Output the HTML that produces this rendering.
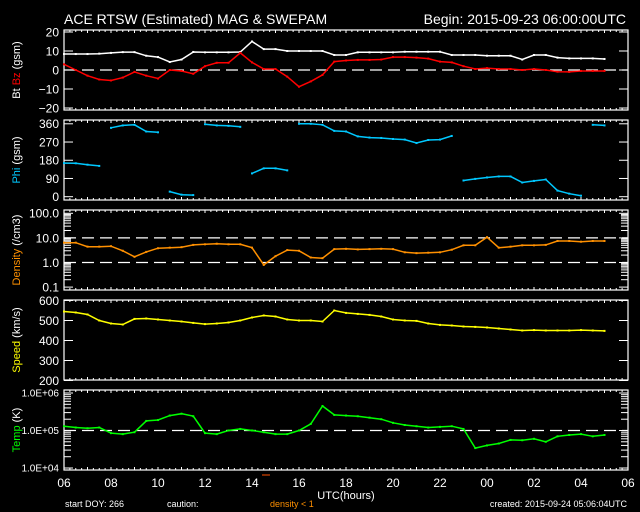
<!DOCTYPE html>
<html><head><meta charset="utf-8"><style>
html,body{margin:0;padding:0;background:#000;}
svg{display:block;font-family:"Liberation Sans",sans-serif;}
</style></head><body>
<svg id="c" width="640" height="512" viewBox="0 0 640 512" xmlns="http://www.w3.org/2000/svg">
<rect width="640" height="512" fill="#000"/>
<text x="64" y="24" fill="#fff" font-size="14">ACE RTSW (Estimated) MAG &amp; SWEPAM</text>
<text x="626" y="24" fill="#fff" font-size="14" text-anchor="end">Begin: 2015-09-23 06:00:00UTC</text>
<text x="346" y="499" fill="#fff" font-size="11" text-anchor="middle">UTC(hours)</text>
<text x="65" y="507" fill="#fff" font-size="9">start DOY: 266</text>
<text x="167" y="507" fill="#fff" font-size="9">caution:</text>
<text x="270" y="507" fill="#ff9000" font-size="9">density &lt; 1</text>
<line x1="262" y1="475" x2="270" y2="475" stroke="#ff5000" stroke-width="1"/>
<text x="627" y="507" fill="#fff" font-size="9" text-anchor="end">created: 2015-09-24 05:06:04UTC</text>
<g id="plots"></g>
</svg>
<script>
const hours = [0,0.5,1,1.5,2,2.5,3,3.5,4,4.5,5,5.5,6,6.5,7,7.5,8,8.5,9,9.5,10,10.5,11,11.5,12,12.5,13,13.5,14,14.5,15,15.5,16,16.5,17,17.5,18,18.5,19,19.5,20,20.5,21,21.5,22,22.5,23];
const bt = [8.4,8.4,8.4,8.6,9,9.4,9.4,7.5,6.8,4.2,5.5,9.5,9.3,9.3,9.3,9.5,15,11,11,10,10,10,10,7.9,7.9,9.3,9.3,9.3,9.3,9.6,9.6,9.6,9.6,7.9,7.9,7.9,7.5,7.5,7.5,5.5,7.9,7.9,6.5,6.1,6.1,6.1,5.8];
const bz = [3,0,-3,-5,-5.5,-4,-1,-3,-4.5,0,-0.5,-2,2,3.8,3.8,9,4,0.5,0.5,-3.5,-8.8,-6,-2.6,4.4,5,5.3,5.3,5.5,6.8,6.8,6.5,6,4.4,4,2,0.5,1,0.5,0.5,0,0.5,0,-0.9,-1,-0.5,-0.5,-0.5];
const phi = [166,165,158,152,340,352,355,322,318,25,10,8,358,352,350,345,115,140,140,130,360,360,355,325,322,298,292,290,285,282,265,280,282,300,80,88,95,100,100,70,78,85,30,15,5,355,352];
const density = [6.4,6.4,4.4,4.4,4.6,3,1.7,2.7,3.8,4,4.2,5.2,5.5,5.8,5.5,5.5,4,0.8,1.8,3.2,3,1.6,1.5,3.5,3.6,3.4,3.5,3.6,3.5,2.6,2.4,2.5,2.6,3.3,5,5,10.7,4,4.4,5,5,5.2,7.5,7.5,7,7.5,7.5];
const speed = [545,540,530,500,485,480,508,510,505,500,495,488,482,485,490,500,515,525,520,505,500,500,495,550,538,533,528,520,505,500,498,485,478,475,470,468,465,460,455,450,452,450,450,450,452,450,448];
const temp = [1.3e5,1.2e5,1.15e5,1.2e5,8.5e4,8e4,9e4,1.8e5,1.9e5,2.5e5,2.8e5,2.4e5,8.5e4,8e4,1e5,1.1e5,1e5,9e4,8e4,8e4,1e5,1.5e5,4.5e5,2.6e5,2.5e5,2.4e5,2.2e5,2e5,1.6e5,1.4e5,1.3e5,1.2e5,1.25e5,1.3e5,1.1e5,3.4e4,4e4,4.5e4,5.6e4,5.5e4,6e4,5e4,7e4,7.6e4,8e4,7e4,7.6e4];
const xTickLabels = ["06","08","10","12","14","16","18","20","22","00","02","04","06"];

const NS = "http://www.w3.org/2000/svg";
const g = document.getElementById('plots');
const X0 = 64, X1 = 628;
function xs(h){ return X0 + h * (X1 - X0) / 24; }
function mk(tag, attrs, parent){
  const e = document.createElementNS(NS, tag);
  for (const k in attrs) e.setAttribute(k, attrs[k]);
  (parent || g).appendChild(e);
  return e;
}
const panels = [
  {top:30, y:v=>70 - v*1.9, ticks:[20,10,0,-10,-20], labels:["20","10","0","−10","−20"], name:'bt-bz', fs:12},
  {top:120, y:v=>196.7 - v*0.2025, ticks:[360,270,180,90,0], labels:["360","270","180","90","0"], name:'phi', fs:12},
  {top:210, y:v=>262.5 - Math.log10(v)*24.6, ticks:[100,10,1,0.1], labels:["100.0","10.0","1.0","0.1"], log:true, name:'density', fs:12},
  {top:300, y:v=>380.5 - (v-200)*0.2, ticks:[600,500,400,300,200], labels:["600","500","400","300","200"], name:'speed', fs:12},
  {top:390, y:v=>468 - Math.log10(v/1e4)*37.5, ticks:[1e6,1e5,1e4], labels:["1.0E+06","1.0E+05","1.0E+04"], log:true, name:'temp', fs:10}
];
panels.forEach(p => {
  const r = mk('rect', {x:X0, y:p.top, width:X1-X0, height:80, fill:'none', stroke:'#fff', 'stroke-width':1.2});
  
  
  for (let q = 0; q <= 96; q++){
    const x = X0 + q * (X1-X0)/96;
    const len = q % 4 === 0 ? 3 : 2;
    mk('line', {x1:x, y1:p.top, x2:x, y2:p.top+len, stroke:'#fff', 'stroke-width':1});
    mk('line', {x1:x, y1:p.top+80, x2:x, y2:p.top+80-len, stroke:'#fff', 'stroke-width':1});
  }
  p.ticks.forEach((t, i) => {
    const y = p.y(t);
    mk('line', {x1:X0, y1:y, x2:X0+9, y2:y, stroke:'#fff', 'stroke-width':1});
    mk('line', {x1:X1, y1:y, x2:X1-9, y2:y, stroke:'#fff', 'stroke-width':1});
    const tx = mk('text', {x:59, y:y+p.fs*0.37, fill:'#fff', 'font-size':p.fs, 'text-anchor':'end'});
    
    
    tx.textContent = p.labels[i];
    if (p.log && i < p.ticks.length - 1){
      for (let m = 2; m <= 9; m++){
        const ym = p.y(p.ticks[i+1] * m);
        mk('line', {x1:X0, y1:ym, x2:X0+7, y2:ym, stroke:'#fff', 'stroke-width':1});
        mk('line', {x1:X1, y1:ym, x2:X1-7, y2:ym, stroke:'#fff', 'stroke-width':1});
      }
    }
  });
});
function dashed(y, name){
  const l = mk('line', {x1:X0, y1:y, x2:X1, y2:y, stroke:'#fff', 'stroke-width':1.2, 'stroke-dasharray':'12 6'});
  
  
}
dashed(panels[0].y(0), 'bz-zero-line');
dashed(panels[2].y(10), 'density-10-line');
dashed(panels[2].y(1), 'density-1-line');
dashed(panels[4].y(1e5), 'temp-1e5-line');

function series(vals, p, color, name, wrap){
  let segs = [[]];
  vals.forEach((v, i) => {
    const pt = [xs(hours[i]), p.y(v)];
    if (wrap && i > 0 && Math.abs(v - vals[i-1]) > 100) segs.push([]);
    segs[segs.length-1].push(pt);
  });
  segs.forEach(s => {
    const pl = mk('polyline', {points:s.map(q=>q[0].toFixed(1)+','+q[1].toFixed(1)).join(' '), fill:'none', stroke:color, 'stroke-width':1.5});
    
    
  });
  vals.forEach((v, i) => {
    const d = mk('rect', {x:xs(hours[i])-1, y:p.y(v)-1, width:2, height:2, fill:color});
    
    
  });
}
series(bt, panels[0], '#ffffff', 'bt-line');
series(bz, panels[0], '#ff0000', 'bz-line');
series(phi, panels[1], '#00c8ff', 'phi-line', true);
series(density, panels[2], '#ff9000', 'density-line');
series(speed, panels[3], '#ffff00', 'speed-line');
series(temp, panels[4], '#00ff00', 'temp-line');

xTickLabels.forEach((s, i) => {
  const t = mk('text', {x:xs(i*2), y:487, fill:'#fff', 'font-size':12, 'text-anchor':'middle'});
  
  
  t.textContent = s;
});

function ytitle(cy, parts, name){
  const t = mk('text', {x:0, y:0, 'font-size':11, 'text-anchor':'middle', transform:'translate(20,'+cy+') rotate(-90)'});
  
  
  parts.forEach(pt => {
    const s = mk('tspan', {fill:pt[1]}, t);
    s.textContent = pt[0];
  });
}
ytitle(70, [['Bt ','#fff'],['Bz','#ff0000'],[' (gsm)','#fff']], 'bt-bz-axis-title');
ytitle(160, [['Phi','#00c8ff'],[' (gsm)','#fff']], 'phi-axis-title');
ytitle(250, [['Density','#ff9000'],[' (/cm3)','#fff']], 'density-axis-title');
ytitle(340, [['Speed','#ffff00'],[' (km/s)','#fff']], 'speed-axis-title');
ytitle(430, [['Temp','#00ff00'],[' (K)','#fff']], 'temp-axis-title');
</script>
</body></html>
